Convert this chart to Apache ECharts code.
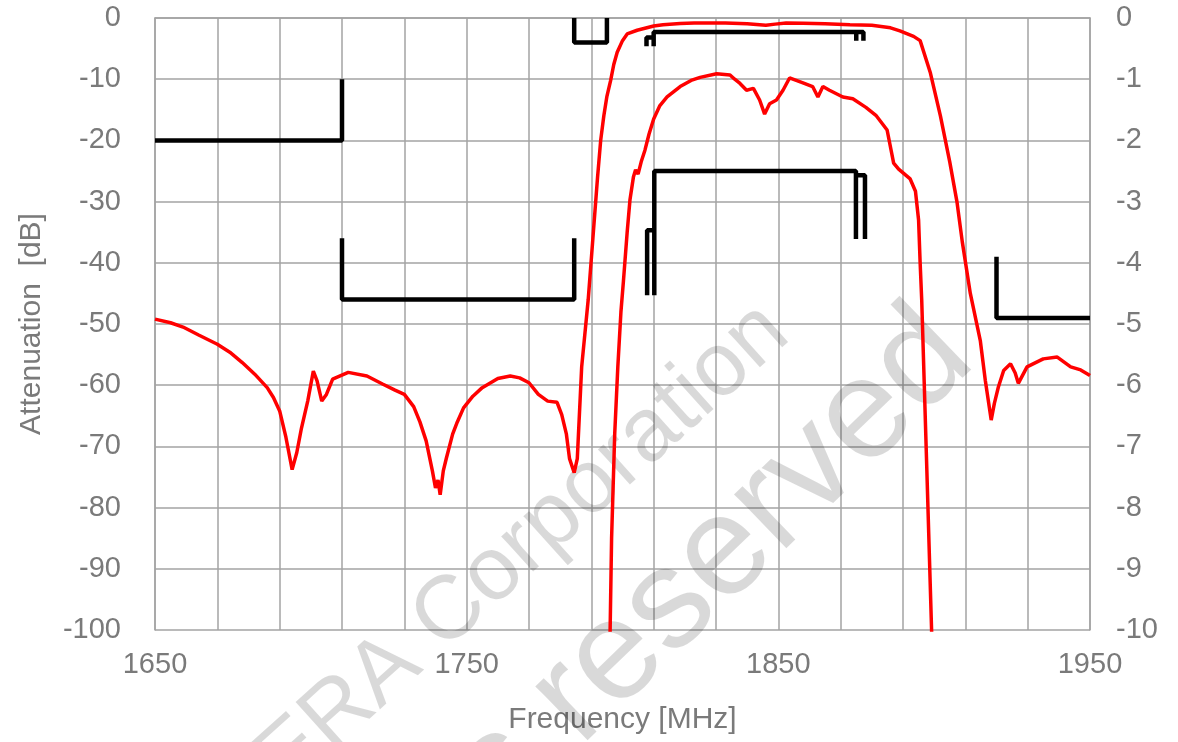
<!DOCTYPE html>
<html>
<head>
<meta charset="utf-8">
<script src="https://cdn.jsdelivr.net/npm/echarts@6/dist/echarts.min.js"></script>
<style>
  html, body { margin: 0; padding: 0; background: #fff; }
  #chart { width: 1178px; height: 742px; }
</style>
</head>
<body>
<div id="chart"></div>
<script>
// wide-band attenuation (left axis, dB)
const wideFreq = [1650, 1655, 1659, 1664, 1670, 1674, 1678, 1682, 1686, 1688, 1690, 1692, 1694, 1695.5, 1697, 1699, 1700.8, 1702, 1703.5, 1705, 1707,
  1712, 1718, 1723, 1727, 1730, 1733, 1735, 1737, 1739, 1740, 1740.8, 1741.5, 1742.5, 1743.5, 1745.5, 1747, 1749, 1752, 1755, 1760, 1764, 1767,
  1770, 1773, 1776, 1779, 1780.5, 1782, 1783, 1784.5, 1785.5, 1786.9, 1789, 1790.5, 1792, 1793, 1794, 1795, 1796.2, 1797.2, 1798.3, 1800, 1801.5,
  1804.7, 1810, 1813, 1818.5, 1823, 1833, 1840, 1846, 1849, 1852.5, 1858, 1865, 1873, 1880, 1886, 1889, 1893.4, 1895.5, 1898.8, 1902, 1905,
  1907.3, 1909, 1911.6, 1914.8, 1916.4, 1918.3, 1919.3, 1920.6, 1922.3, 1924.5, 1926, 1927, 1929.8, 1935, 1939.5, 1943.8, 1947, 1950];
const wideAtt = [-49.2, -49.8, -50.5, -51.8, -53.3, -54.6, -56.3, -58.2, -60.4, -62, -64.2, -68.5, -73.8, -71, -67, -62.6, -57.7, -59.3, -62.6, -61.5, -59,
  -57.9, -58.5, -59.8, -60.8, -61.5, -63.5, -66, -69.1, -74, -76.8, -75.5, -77.9, -74, -71.9, -68, -66, -63.7, -61.8, -60.4, -58.9, -58.5, -58.8,
  -59.6, -61.5, -62.6, -62.8, -64.8, -68, -72, -74.3, -72, -57, -46, -36, -26, -20, -16, -12.8, -10.2, -7.6, -5.6, -3.7, -2.6,
  -2, -1.3, -1.1, -0.9, -0.8, -0.8, -0.95, -1.2, -1.0, -0.8, -0.85, -0.95, -1.1, -1.2, -1.6, -2.1, -3, -3.7, -9, -16, -23.5,
  -30, -36.5, -45, -52.7, -59.2, -65.7, -63, -60.3, -57.6, -56.5, -58, -59.7, -57, -55.7, -55.4, -57, -57.5, -58.4];

// passband insertion loss (right axis, dB)
const passFreq = [1796, 1796.5, 1797.5, 1798.5, 1799.5, 1800.3, 1801.5, 1802.4, 1803.5, 1804.2, 1805, 1806, 1807.2, 1808.5, 1810, 1812, 1814.3,
  1818.5, 1822, 1824.9, 1830.2, 1834.5, 1836, 1837.7, 1839.8, 1842, 1844, 1845.6, 1847.2, 1849.4, 1851.5, 1853.6, 1857.9, 1861, 1862.7, 1864.3,
  1866.4, 1870.7, 1873.9, 1878.1, 1881.3, 1884.9, 1887, 1888.6, 1892.3, 1894, 1895, 1895.5, 1896, 1897.6, 1899.2];
const passLoss = [-10.1, -8.5, -6.8, -5.7, -4.8, -4.3, -3.5, -2.97, -2.6, -2.48, -2.55, -2.35, -2.16, -1.9, -1.65, -1.43, -1.29,
  -1.12, -1.02, -0.97, -0.91, -0.93, -1.0, -1.07, -1.18, -1.15, -1.34, -1.57, -1.4, -1.34, -1.18, -0.98, -1.06, -1.12, -1.29, -1.12,
  -1.18, -1.29, -1.32, -1.46, -1.59, -1.83, -2.37, -2.47, -2.63, -2.83, -3.3, -4.0, -4.6, -7.3, -10.05];

// spec masks (left axis, dB)
const maskLowA = [[1650, -20], [1710, -20], [1710, -10]];
const maskLowB = [[1710, -36], [1710, -46], [1784.5, -46], [1784.5, -36]];
const maskGap = [[1784.5, 0], [1784.5, -4], [1795, -4], [1795, 0]];
const maskPassTopL = [[1807.7, -4.6], [1807.7, -3.2], [1810, -3.2]];
const maskPassTop = [[1810, -4.6], [1810, -2.3], [1877.3, -2.3], [1877.3, -3.7]];
const maskPassTopR = [[1875, -2.3], [1875, -3.7]];
const maskPassLowL = [[1807.9, -45.3], [1807.9, -34.7], [1810.2, -34.7]];
const maskPassLow = [[1810.2, -45.3], [1810.2, -25], [1874.9, -25], [1874.9, -36.1]];
const maskPassLowR = [[1874.9, -25.7], [1877.8, -25.7], [1877.8, -36.1]];
const maskHigh = [[1920, -39], [1920, -49], [1950, -49]];

const xTickLabels = [1650, 1750, 1850, 1950];

const chart = echarts.init(document.getElementById('chart'));
const font = 'Liberation Sans, Arial, sans-serif';
const labelColor = '#7a7a7a';
const gridColor = '#a3a3a3';

function redLine(name, xs, ys, axis) {
  return {
    name: name, type: 'line', yAxisIndex: axis, showSymbol: false, symbol: 'none',
    data: xs.map((x, i) => [x, ys[i]]),
    lineStyle: { color: '#ff0000', width: 3.5 }, z: 3
  };
}
function maskLine(name, pts) {
  return {
    name: name, type: 'line', yAxisIndex: 0, showSymbol: false, symbol: 'none',
    data: pts, lineStyle: { color: '#000', width: 4.5 }, z: 4
  };
}

const option = {
  animation: false,
  backgroundColor: '#fff',
  grid: { left: 155, right: 88, top: 18, bottom: 112 },
  xAxis: {
    type: 'value', min: 1650, max: 1950, interval: 20,
    name: 'Frequency [MHz]', nameLocation: 'middle', nameGap: 75,
    nameTextStyle: { color: labelColor, fontSize: 30, fontFamily: font },
    axisLine: { show: true, lineStyle: { color: gridColor, width: 1.5 } },
    axisTick: { show: false },
    splitLine: { show: true, lineStyle: { color: gridColor, width: 1.5 } },
    axisLabel: {
      color: labelColor, fontSize: 29, fontFamily: font, margin: 20,
      formatter: v => xTickLabels.indexOf(v) >= 0 ? String(v) : ''
    }
  },
  yAxis: [{
    type: 'value', min: -100, max: 0, interval: 10,
    name: 'Attenuation  [dB]', nameLocation: 'middle', nameGap: 108, nameRotate: 90,
    nameTextStyle: { color: labelColor, fontSize: 30, fontFamily: font },
    axisLine: { show: true, lineStyle: { color: gridColor, width: 1.5 } },
    axisTick: { show: false },
    splitLine: { show: true, lineStyle: { color: gridColor, width: 1.5 } },
    axisLabel: { color: labelColor, fontSize: 29, fontFamily: font, margin: 34 }
  }, {
    type: 'value', min: -10, max: 0, interval: 1, position: 'right',
    axisLine: { show: true, lineStyle: { color: gridColor, width: 1.5 } },
    axisTick: { show: false },
    splitLine: { show: false },
    axisLabel: { color: labelColor, fontSize: 29, fontFamily: font, margin: 26 }
  }],
  graphic: [{
    type: 'text', x: 806, y: 353, rotation: 0.733, z: 1, silent: true,
    style: { text: 'KYOCERA Corporation', fontSize: 90, fontFamily: font, fill: 'rgba(0,0,0,0.15)',
      align: 'right', verticalAlign: 'bottom', textAlign: 'right', textVerticalAlign: 'bottom' }
  }, {
    type: 'text', x: 1000, y: 386, rotation: 0.768, z: 1, silent: true,
    style: { text: 'All rights reserved', fontSize: 142, fontFamily: font, fill: 'rgba(0,0,0,0.15)',
      align: 'right', verticalAlign: 'bottom', textAlign: 'right', textVerticalAlign: 'bottom' }
  }],
  series: [
    redLine('Attenuation', wideFreq, wideAtt, 0),
    redLine('Insertion loss', passFreq, passLoss, 1),
    maskLine('maskLowA', maskLowA),
    maskLine('maskLowB', maskLowB),
    maskLine('maskGap', maskGap),
    maskLine('maskPassTopL', maskPassTopL),
    maskLine('maskPassTop', maskPassTop),
    maskLine('maskPassTopR', maskPassTopR),
    maskLine('maskPassLowL', maskPassLowL),
    maskLine('maskPassLow', maskPassLow),
    maskLine('maskPassLowR', maskPassLowR),
    maskLine('maskHigh', maskHigh)
  ]
};
chart.setOption(option);
</script>
</body>
</html>
